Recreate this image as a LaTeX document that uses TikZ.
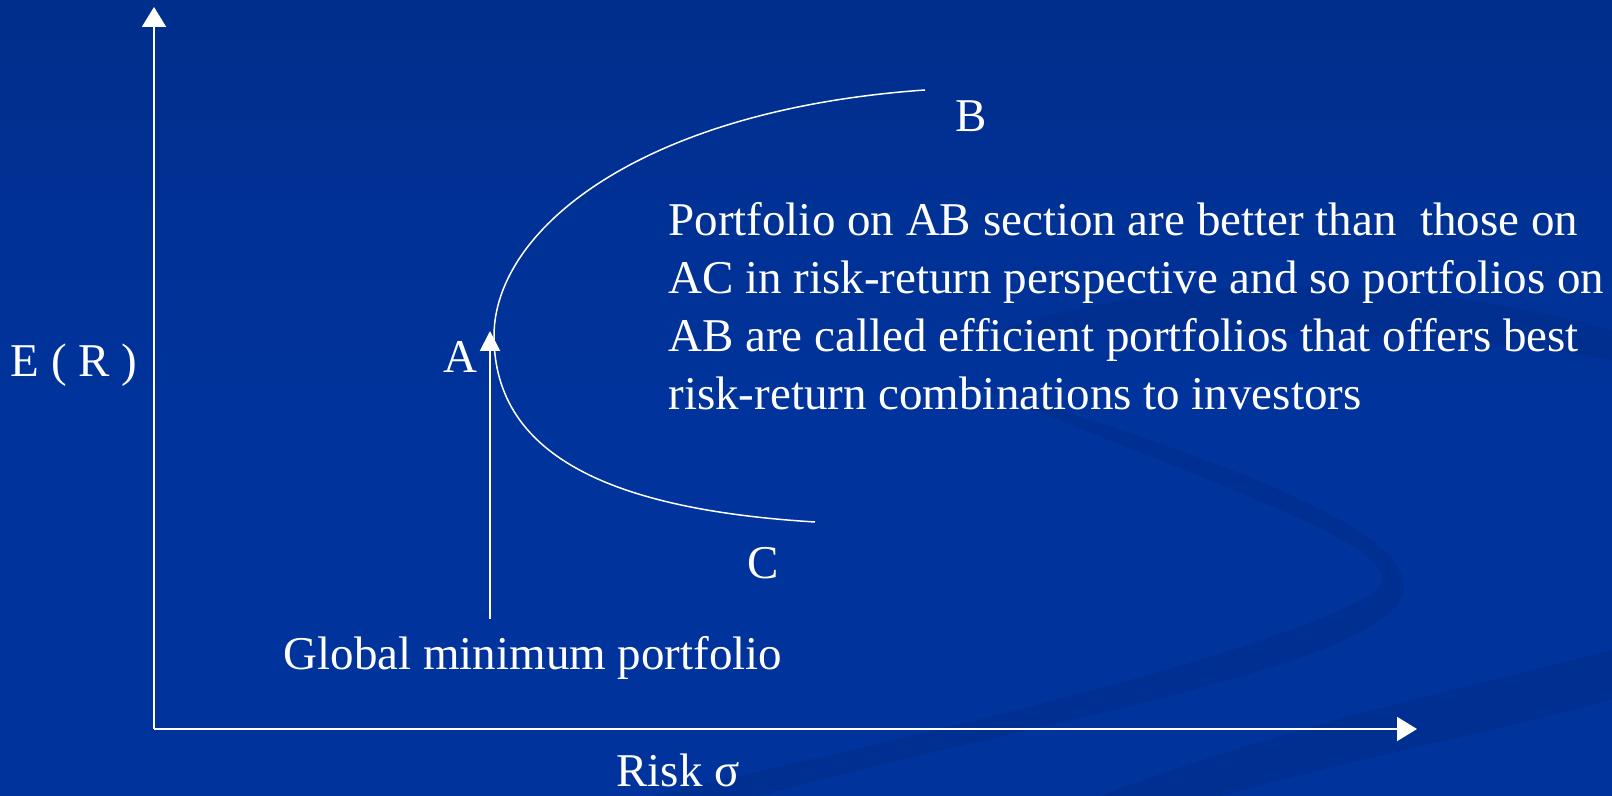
\documentclass[tikz,border=0pt]{standalone}
\usepackage{fontspec}
\setmainfont{Liberation Serif}
\usetikzlibrary{arrows.meta}
\definecolor{slideblue}{RGB}{0,51,155}
\definecolor{slidetop}{RGB}{0,46,140}
\definecolor{swirl}{RGB}{0,42,130}
\tikzstyle{axis} = [white, line width=1pt, -{Triangle[length=10pt,width=12pt]}]
\tikzstyle{frontier} = [white, line width=0.75pt]
\tikzstyle{lbl} = [text=white, font=\fontsize{23.5}{29}\selectfont, inner sep=0pt]

\begin{document}
\begin{tikzpicture}[x=0.5pt, y=-0.5pt]
% background
\useasboundingbox (0,0) rectangle (1612,796);
\shade[top color=slidetop, bottom color=slideblue, middle color=slideblue] (0,0) rectangle (1612,796);
\fill[swirl, opacity=0.35] (1000,330) .. controls (1250,250) and (1500,300) .. (1612,330) -- (1612,360) .. controls (1450,330) and (1200,330) .. (1000,330);
\fill[swirl, opacity=0.35] (960,380) .. controls (1250,500) and (1450,560) .. (1360,600) .. controls (1250,660) and (900,740) .. (650,796) -- (760,796) .. controls (1000,730) and (1300,680) .. (1380,620) .. controls (1470,560) and (1300,480) .. (960,380);
\fill[swirl, opacity=0.35] (1100,796) .. controls (1300,720) and (1500,680) .. (1612,650) -- (1612,700) .. controls (1500,730) and (1350,760) .. (1220,796);

% axes
\coordinate (origin) at (154,729);
\coordinate (ytip) at (154,7);
\coordinate (xtip) at (1417,729);
\draw[axis] (origin) -- (ytip);
\draw[axis] (origin) -- (xtip);

% frontier
\coordinate (A) at (494,336);
\coordinate (B) at (925,90);
\coordinate (C) at (815,522);
\draw[frontier] (B) .. controls (640,110) and (494,230) .. (A)
  .. controls (494,460) and (620,510) .. (C);

% labels
\node (ylbl) [lbl] at (74,365) {E ( R )};
\node (xlbl) [lbl] at (678,770) {Risk σ};
\node (Albl) [lbl] at (460,357) {A};
\node (Blbl) [lbl] at (971,116) {B};
\node (Clbl) [lbl] at (763,563) {C};
\node (gmin) [lbl] at (533,658) {Global minimum portfolio};
\coordinate (gbase) at (490,619);
\coordinate (gtip) at (490,331);
\draw[axis, -{Triangle[length=10pt,width=10pt]}] (gbase) -- (gtip);

\node (note) [lbl, anchor=base west, align=left] at (668,410)
  {Portfolio on AB section are better than\ \ those on\\
   AC in risk-return perspective and so portfolios on\\
   AB are called efficient portfolios that offers best\\
   risk-return combinations to investors};
\end{tikzpicture}
\end{document}
